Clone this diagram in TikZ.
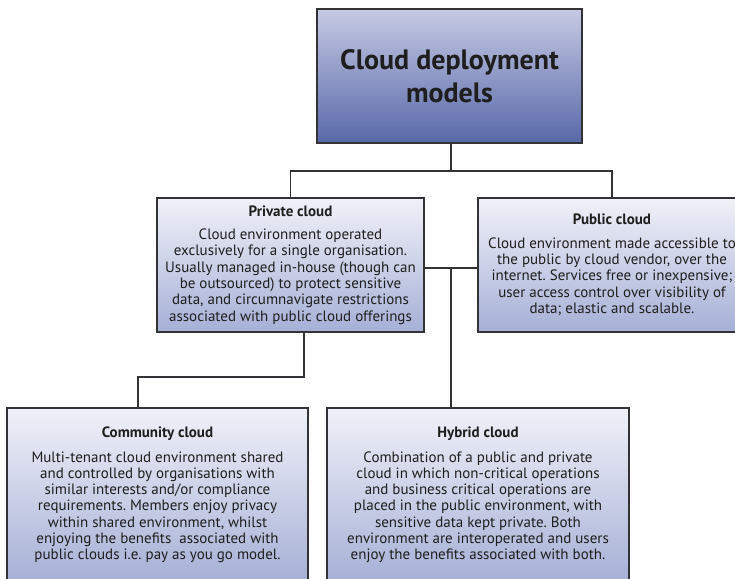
\documentclass[tikz,border=0pt]{standalone}
\usepackage{fontspec}
\setmainfont{PT Sans}
\frenchspacing
\definecolor{rootTop}{RGB}{198,202,228}
\definecolor{rootBot}{RGB}{88,104,168}
\definecolor{boxTop}{RGB}{240,241,248}
\definecolor{boxBot}{RGB}{166,176,214}
\definecolor{edge}{RGB}{50,50,55}
\definecolor{ink}{RGB}{30,30,30}
\begin{document}
\begin{tikzpicture}[x=1pt,y=1pt,
  rootbox/.style={draw=edge, line width=1.3pt, top color=rootTop, bottom color=rootBot,
    align=center, text=ink, font=\fontsize{28}{33}\selectfont\bfseries},
  infobox/.style={draw=edge, line width=1.2pt, top color=boxTop, bottom color=boxBot,
    align=center, text=ink, font=\fontsize{15}{16.3}\selectfont, inner sep=0pt},
  link/.style={draw=edge, line width=1.2pt}]
\useasboundingbox (0,0) rectangle (735,-578);
\clip (0,0) rectangle (735,-578);
\node[rootbox, minimum width=265pt, minimum height=134pt] (root) at (449.5,-76)
  {Cloud deployment\\models};
\node[infobox, minimum width=267pt, minimum height=134pt] (priv) at (290.5,-265)
  {{\bfseries Private cloud}\\[7pt]
   Cloud environment operated\\
   exclusively for a single organisation.\\
   Usually managed in-house (though can\\
   be outsourced) to protect sensitive\\
   data, and circumnavigate restrictions\\
   associated with public cloud offerings};
\node[infobox, minimum width=268pt, minimum height=134pt] (pub) at (612,-265)
  {{\bfseries Public cloud}\\[7pt]
   Cloud environment made accessible to\\
   the public by cloud vendor, over the\\
   internet. Services free or inexpensive;\\
   user access control over visibility of\\
   data; elastic and scalable.};
\node[infobox, minimum width=301pt, minimum height=174pt] (com) at (157.5,-495)
  {{\bfseries Community cloud}\\[8pt]
   Multi-tenant cloud environment shared\\
   and controlled by organisations with\\
   similar interests and/or compliance\\
   requirements. Members enjoy privacy\\
   within shared environment, whilst\\
   enjoying the benefits\ \ associated with\\
   public clouds i.e. pay as you go model.};
\node[infobox, minimum width=302pt, minimum height=174pt] (hyb) at (478,-495)
  {{\bfseries Hybrid cloud}\\[8pt]
   Combination of a public and private\\
   cloud in which non-critical operations\\
   and business critical operations are\\
   placed in the public environment, with\\
   sensitive data kept private. Both\\
   environment are interoperated and users\\
   enjoy the benefits associated with both.};
\coordinate (j1) at (451,-171);
\coordinate (j2) at (451,-268);
\coordinate (c1) at (304,-377);
\coordinate (c2) at (138,-377);
\draw[link] (root.south -| j1) -- (j1);
\draw[link] (priv.north) |- (j1) -| (pub.north);
\draw[link] (priv.east |- j2) -- (pub.west |- j2);
\draw[link] (j2) -- (j2 |- hyb.north);
\draw[link] (priv.south -| c1) -- (c1) -- (c2) -- (c2 |- com.north);
\end{tikzpicture}
\end{document}
